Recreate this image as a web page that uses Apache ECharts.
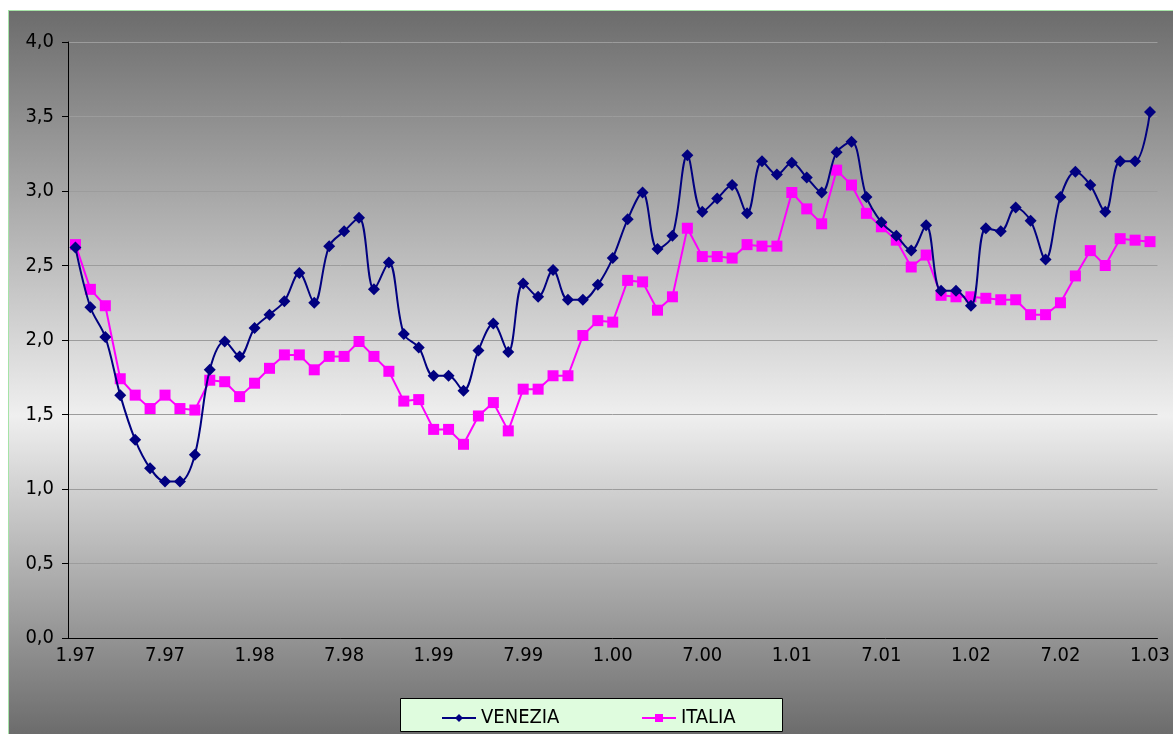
<!DOCTYPE html>
<html>
<head>
<meta charset="utf-8">
<script src="https://cdn.jsdelivr.net/npm/echarts@6/dist/echarts.min.js"></script>
<style>
  html, body { margin: 0; padding: 0; background: #ffffff; }
  #frame {
    position: absolute; left: 8px; top: 10px;
    border-left: 1px solid #a6e3a6; border-top: 1px solid #a6e3a6;
  }
  #chart { width: 1164px; height: 723px; }
</style>
</head>
<body>
<div id="frame"><div id="chart"></div></div>
<script>
// Monthly categories, January 1997 – January 2003
const categories = [
  '1.97','2.97','3.97','4.97','5.97','6.97','7.97','8.97','9.97','10.97','11.97','12.97',
  '1.98','2.98','3.98','4.98','5.98','6.98','7.98','8.98','9.98','10.98','11.98','12.98',
  '1.99','2.99','3.99','4.99','5.99','6.99','7.99','8.99','9.99','10.99','11.99','12.99',
  '1.00','2.00','3.00','4.00','5.00','6.00','7.00','8.00','9.00','10.00','11.00','12.00',
  '1.01','2.01','3.01','4.01','5.01','6.01','7.01','8.01','9.01','10.01','11.01','12.01',
  '1.02','2.02','3.02','4.02','5.02','6.02','7.02','8.02','9.02','10.02','11.02','12.02',
  '1.03'
];

const venezia = [
  2.62, 2.22, 2.02, 1.63, 1.33, 1.14, 1.05, 1.05, 1.23, 1.80, 1.99, 1.89,
  2.08, 2.17, 2.26, 2.45, 2.25, 2.63, 2.73, 2.82, 2.34, 2.52, 2.04, 1.95,
  1.76, 1.76, 1.66, 1.93, 2.11, 1.92, 2.38, 2.29, 2.47, 2.27, 2.27, 2.37,
  2.55, 2.81, 2.99, 2.61, 2.70, 3.24, 2.86, 2.95, 3.04, 2.85, 3.20, 3.11,
  3.19, 3.09, 2.99, 3.26, 3.33, 2.96, 2.79, 2.70, 2.60, 2.77, 2.33, 2.33,
  2.23, 2.75, 2.73, 2.89, 2.80, 2.54, 2.96, 3.13, 3.04, 2.86, 3.20, 3.20,
  3.53
];

const italia = [
  2.64, 2.34, 2.23, 1.74, 1.63, 1.54, 1.63, 1.54, 1.53, 1.73, 1.72, 1.62,
  1.71, 1.81, 1.90, 1.90, 1.80, 1.89, 1.89, 1.99, 1.89, 1.79, 1.59, 1.60,
  1.40, 1.40, 1.30, 1.49, 1.58, 1.39, 1.67, 1.67, 1.76, 1.76, 2.03, 2.13,
  2.12, 2.40, 2.39, 2.20, 2.29, 2.75, 2.56, 2.56, 2.55, 2.64, 2.63, 2.63,
  2.99, 2.88, 2.78, 3.14, 3.04, 2.85, 2.76, 2.67, 2.49, 2.57, 2.30, 2.29,
  2.29, 2.28, 2.27, 2.27, 2.17, 2.17, 2.25, 2.43, 2.60, 2.50, 2.68, 2.67,
  2.66
];

const FONT = '"DejaVu Sans Condensed", "DejaVu Sans", sans-serif';
const NAVY = '#000080';
const MAGENTA = '#ff00ff';

const chart = echarts.init(document.getElementById('chart'), null, { renderer: 'canvas' });

chart.setOption({
  animation: false,
  backgroundColor: {
    type: 'linear', x: 0, y: 0, x2: 0, y2: 1,
    colorStops: [
      { offset: 0, color: '#6c6c6c' },
      { offset: 0.56, color: '#efefef' },
      { offset: 1, color: '#6c6c6c' }
    ]
  },
  grid: { left: 59, right: 10, top: 31, bottom: 96 },
  xAxis: {
    type: 'category',
    data: categories,
    boundaryGap: true,
    axisLine: { lineStyle: { color: '#000', width: 1 } },
    axisTick: { interval: 5, length: 6, lineStyle: { color: '#000' } },
    axisLabel: {
      interval: 5, margin: 8, color: '#000',
      fontFamily: FONT, fontSize: 20
    },
    splitLine: { show: false }
  },
  yAxis: {
    type: 'value',
    min: 0, max: 4, interval: 0.5,
    axisLine: { show: true, lineStyle: { color: '#000', width: 1 } },
    axisTick: { show: true, length: 6, lineStyle: { color: '#000' } },
    axisLabel: {
      margin: 14, color: '#000', fontFamily: FONT, fontSize: 20,
      formatter: v => v.toFixed(1).replace('.', ',')
    },
    splitLine: { lineStyle: { color: '#9c9c9c', width: 1 } }
  },
  graphic: [{
    type: 'rect', z: 50,
    shape: { x: 391.5, y: 687.5, width: 382, height: 33 },
    style: { fill: '#dffcdf', stroke: '#000', lineWidth: 1 }
  }],
  legend: [
    {
      data: ['VENEZIA'], left: 427, top: 692, z: 60,
      itemWidth: 34, itemHeight: 10, itemGap: 0,
      textStyle: { color: '#000', fontFamily: FONT, fontSize: 20 }
    },
    {
      data: ['ITALIA'], left: 627, top: 692, z: 60,
      itemWidth: 34, itemHeight: 10, itemGap: 0,
      textStyle: { color: '#000', fontFamily: FONT, fontSize: 20 }
    }
  ],
  series: [
    {
      name: 'VENEZIA', type: 'line', data: venezia,
      smooth: 0.35,
      symbol: 'diamond', symbolSize: 12,
      showSymbol: true, showAllSymbol: true,
      lineStyle: { color: NAVY, width: 2 },
      itemStyle: { color: NAVY },
      z: 3
    },
    {
      name: 'ITALIA', type: 'line', data: italia,
      symbol: 'rect', symbolSize: 11,
      showSymbol: true, showAllSymbol: true,
      lineStyle: { color: MAGENTA, width: 2 },
      itemStyle: { color: MAGENTA },
      z: 2
    }
  ]
});
</script>
</body>
</html>
